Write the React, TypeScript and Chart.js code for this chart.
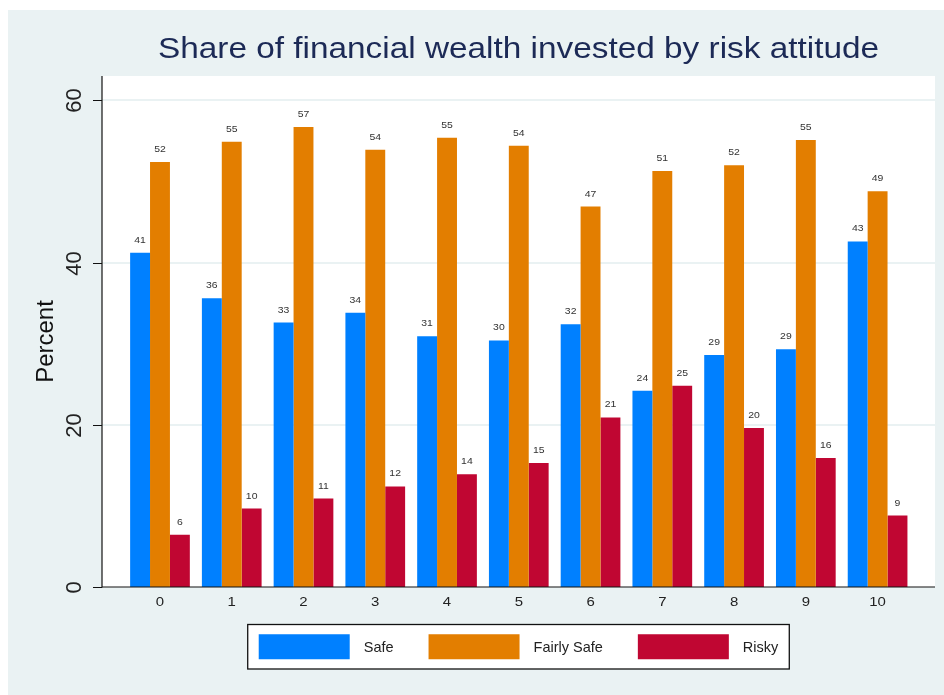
import React, { useEffect, useRef } from 'react';
import { Chart, registerables } from 'chart.js';

Chart.register(...registerables);

// ---------- data ----------
const categories = ['0', '1', '2', '3', '4', '5', '6', '7', '8', '9', '10'];
const seriesNames = ['Safe', 'Fairly Safe', 'Risky'];
const safe = [41.2, 35.6, 32.6, 33.8, 30.9, 30.4, 32.4, 24.2, 28.6, 29.3, 42.6];
const fairlySafe = [52.4, 54.9, 56.7, 53.9, 55.4, 54.4, 46.9, 51.3, 52.0, 55.1, 48.8];
const risky = [6.45, 9.67, 10.9, 12.4, 13.9, 15.3, 20.9, 24.8, 19.6, 15.9, 8.8];
const yTicks = [0, 20, 40, 60];
const titleText = 'Share of financial wealth invested by risk attitude';
const yTitleText = 'Percent';

// ---------- styles ----------
const COLORS = ['#0080FF', '#E37E00', '#C00632'];
const BG = '#EAF2F3';
const FONT = '"Liberation Sans", Arial, Helvetica, sans-serif';
const SX = 1.15;

function drawText(
  ctx: CanvasRenderingContext2D,
  s: string,
  x: number,
  y: number,
  size: number,
  color: string,
  align: CanvasTextAlign,
  baseline: CanvasTextBaseline,
  sx = 1,
  rot = 0
) {
  ctx.save();
  ctx.translate(x, y);
  ctx.scale(sx, 1);
  if (rot) ctx.rotate(rot);
  ctx.font = `${size}px ${FONT}`;
  ctx.fillStyle = color;
  ctx.textAlign = align;
  ctx.textBaseline = baseline;
  ctx.fillText(s, 0, 0);
  ctx.restore();
}

function line(ctx: CanvasRenderingContext2D, x1: number, y1: number, x2: number, y2: number) {
  ctx.beginPath();
  ctx.moveTo(x1, y1);
  ctx.lineTo(x2, y2);
  ctx.stroke();
}

const stataPlugin = {
  id: 'stataLook',
  beforeDraw(chart: any) {
    const { ctx, chartArea: a, width, height } = chart;
    ctx.save();
    ctx.fillStyle = BG;
    ctx.fillRect(8, 10, width - 8, height - 10);
    ctx.fillStyle = '#ffffff';
    ctx.fillRect(a.left, a.top, a.right - a.left, a.bottom - a.top);
    const ys = chart.scales.y;
    ctx.strokeStyle = BG;
    ctx.lineWidth = 2;
    yTicks.forEach((v) => {
      if (v === 0) return;
      const py = Math.round(ys.getPixelForValue(v));
      line(ctx, a.left, py, a.right, py);
    });
    ctx.restore();
  },
  afterDatasetsDraw(chart: any) {
    const { ctx, chartArea: a } = chart;
    const ys = chart.scales.y;
    const xs = chart.scales.x;
    ctx.save();

    // value labels
    chart.data.datasets.forEach((ds: any, di: number) => {
      const meta = chart.getDatasetMeta(di);
      meta.data.forEach((el: any, i: number) => {
        const v = ds.data[i].y;
        drawText(ctx, String(Math.round(v)), el.x, el.y - 10, 9.5, '#333333', 'center', 'alphabetic', 1.1);
      });
    });

    // axes
    ctx.strokeStyle = '#111111';
    ctx.lineWidth = 1.2;
    line(ctx, a.left, a.top, a.left, a.bottom + 0.6);
    line(ctx, a.left, a.bottom, a.right, a.bottom);

    // y ticks + labels
    yTicks.forEach((v) => {
      const py = Math.round(ys.getPixelForValue(v)) + 0.5;
      ctx.lineWidth = 1;
      line(ctx, a.left - 9, py, a.left, py);
      drawText(ctx, String(v), a.left - 21, py, 22, '#222222', 'center', 'alphabetic', 1, -Math.PI / 2);
    });

    // y title
    drawText(ctx, yTitleText, 53, (a.top + a.bottom) / 2 + 10, 24, '#111111', 'center', 'alphabetic', 1, -Math.PI / 2);

    // x tick labels
    categories.forEach((c, i) => {
      drawText(ctx, c, xs.getPixelForValue(i), a.bottom + 15, 13, '#222222', 'center', 'middle', SX);
    });

    // title
    drawText(ctx, titleText, (a.left + a.right) / 2, 58, 29, '#1C2A56', 'center', 'alphabetic', SX);

    // legend
    const fs = 14.5;
    ctx.font = `${fs}px ${FONT}`;
    const swW = 91, swH = 25, gapSwText = 14, gapItems = 35, pad = 11;
    const widths = seriesNames.map((n) => ctx.measureText(n).width);
    const itemsW = widths.reduce((s, w) => s + swW + gapSwText + w, 0) + gapItems * (seriesNames.length - 1);
    const boxW = itemsW + pad * 2;
    const boxH = 44.5;
    const cx = (a.left + a.right) / 2;
    const bx = cx - boxW / 2;
    const by = 624.5;
    ctx.fillStyle = '#ffffff';
    ctx.fillRect(bx, by, boxW, boxH);
    ctx.strokeStyle = '#111111';
    ctx.lineWidth = 1.3;
    ctx.strokeRect(bx, by, boxW, boxH);
    let x = bx + pad;
    const cy = by + boxH / 2;
    seriesNames.forEach((n, i) => {
      ctx.fillStyle = COLORS[i];
      ctx.fillRect(x, cy - swH / 2, swW, swH);
      x += swW + gapSwText;
      drawText(ctx, n, x, cy + 5, fs, '#222222', 'left', 'alphabetic');
      x += widths[i] + gapItems;
    });

    ctx.restore();
  },
};

export default function App() {
  const ref = useRef<HTMLCanvasElement | null>(null);

  useEffect(() => {
    if (!ref.current) return;
    const series = [safe, fairlySafe, risky];
    const chart = new Chart(ref.current, {
      type: 'bar',
      data: {
        datasets: series.map((vals, si) => ({
          label: seriesNames[si],
          data: categories.map((_, i) => ({ x: i, y: vals[i] })),
          backgroundColor: COLORS[si],
          borderWidth: 0,
          barPercentage: 1,
          categoryPercentage: 0.832,
        })),
      },
      options: {
        responsive: false,
        animation: false,
        devicePixelRatio: 1,
        layout: { padding: { left: 102, top: 76, right: 9, bottom: 108 } },
        plugins: {
          legend: { display: false },
          title: { display: false },
          tooltip: { enabled: false },
        },
        scales: {
          x: {
            type: 'linear',
            display: false,
            min: -0.808,
            max: 10.8,
            offset: false,
            grid: { offset: false },
            afterBuildTicks: (scale: any) => {
              scale.ticks = categories.map((_, i) => ({ value: i }));
            },
          },
          y: {
            type: 'linear',
            display: false,
            min: 0,
            max: 63,
          },
        },
      },
      plugins: [stataPlugin],
    } as any);
    return () => chart.destroy();
  }, []);

  return (
    <div style={{ position: 'fixed', left: 0, top: 0, width: 944, height: 695, background: '#ffffff' }}>
      <canvas ref={ref} width={944} height={695} style={{ display: 'block' }} />
    </div>
  );
}
